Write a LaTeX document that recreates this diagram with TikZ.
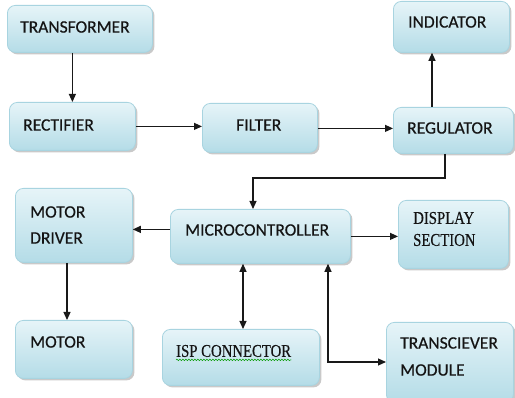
\documentclass[tikz,border=0pt]{standalone}
\usepackage{fontspec}
\setmainfont[FakeBold=0.5]{Carlito}
\newfontfamily\serifc[FakeStretch=0.82,FakeBold=0.4]{Liberation Serif}
\usetikzlibrary{arrows.meta,shadows,calc,decorations.pathmorphing}
\definecolor{boxtop}{HTML}{E6F4F8}
\definecolor{boxbot}{HTML}{B4DCE7}
\definecolor{boxline}{HTML}{A8D4E0}
\definecolor{txt}{HTML}{141414}
\tikzset{
  blk/.style={rounded corners=8pt, draw=boxline, line width=0.8pt,
    top color=boxtop, bottom color=boxbot, anchor=north west,
    drop shadow={shadow xshift=2pt, shadow yshift=-2pt, opacity=0.35, fill=black!60}},
  lbl/.style={font=\fontsize{17.5}{22}\selectfont, text=txt, anchor=west, inner sep=0pt, align=left},
  slbl/.style={font=\serifc\fontsize{18}{22}\selectfont, text=txt, anchor=west, inner sep=0pt, align=left},
  arr/.style={-{Triangle[length=8pt,width=7pt]}, line width=1.1pt, draw=black!90},
  darr/.style={{Triangle[length=8pt,width=7pt]}-{Triangle[length=8pt,width=7pt]}, line width=1.1pt, draw=black!90},
  ln/.style={line width=1.1pt, draw=black!90}
}
\newcommand{\blkat}[5]{\node[blk, minimum width=#4pt, minimum height=#5pt] (#1) at (#2,#3) {};}
\begin{document}
\begin{tikzpicture}[x=1pt,y=-1pt]
\useasboundingbox[fill=white] (0,0) rectangle (515,398);
% boxes
\blkat{trans}{7}{5}{145}{47}
\blkat{rect}{9}{102}{126}{48}
\blkat{filt}{202}{103}{115}{49}
\blkat{reg}{393}{107}{120}{46}
\blkat{ind}{393}{1}{116}{51}
\blkat{md}{15}{188}{117}{74}
\blkat{micro}{170}{209}{180}{54}
\blkat{disp}{398}{200}{110}{68}
\blkat{motor}{15}{320}{117}{58}
\blkat{isp}{162}{329}{157}{56}
\blkat{trx}{386}{322}{127}{80}
% texts
\node[lbl] (ttrans) at (20,27) {TRANSFORMER};
\node[lbl] (trect) at (23,125) {RECTIFIER};
\node[lbl] (tfilt) at (236,125) {FILTER};
\node[lbl] (treg) at (407,128) {REGULATOR};
\node[lbl] (tind) at (408,22) {INDICATOR};
\node[lbl] (tmd1) at (30,212) {MOTOR};
\node[lbl] (tmd2) at (30,238) {DRIVER};
\node[lbl] (tmicro) at (185,230) {MICROCONTROLLER};
\node[slbl] (tdisp1) at (413,218) {DISPLAY};
\node[slbl] (tdisp2) at (413,240) {SECTION};
\node[lbl] (tmotor) at (30,342) {MOTOR};
\node[slbl] (tisp) at (176,351) {ISP CONNECTOR};
\node[lbl] (ttrx1) at (400,343) {TRANSCIEVER};
\node[lbl] (ttrx2) at (400,370) {MODULE};
\draw[green!60!black, line width=0.5pt, decorate, decoration={snake, amplitude=0.8pt, segment length=3pt}]
  (tisp.base west) ++(0,3) coordinate (w1) -- (w1 -| tisp.east);
% connectors
\draw[arr] (trans.south -| rect.north) -- (rect.north);
\draw[arr] (rect.east) -- (rect.east -| filt.west);
\draw[arr] ($(filt.east)+(0,0.5)$) coordinate (f1) -- (f1 -| reg.west);
\coordinate (r1) at ($(reg.north west)+(39,0)$);
\draw[arr] (r1) -- (r1 |- ind.south);
\coordinate (r2) at ($(reg.south west)+(52,0)$);
\coordinate (m1) at ($(micro.north west)+(83,0)$);
\draw[arr] (r2) -- (r2 |- 0,178) -| (m1);
\coordinate (m2) at ($(micro.west)+(0,-7)$);
\draw[arr] (m2) -- (m2 -| md.east);
\coordinate (d1) at ($(md.south west)+(52,0)$);
\draw[arr] (d1) -- (d1 |- motor.north);
\draw[arr] (micro.east) -- (micro.east -| disp.west);
\coordinate (m3) at ($(micro.south west)+(73,0)$);
\draw[darr] (m3) -- (m3 |- isp.north);
\coordinate (m4) at ($(micro.south west)+(158,0)$);
\coordinate (t1) at ($(trx.north west)+(0,40)$);
\draw[darr] (m4) |- (t1);
\end{tikzpicture}
\end{document}
